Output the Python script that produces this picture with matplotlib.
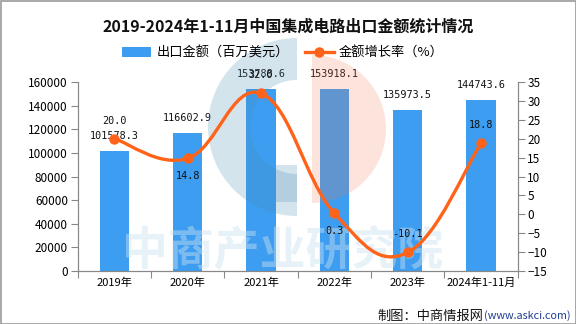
import matplotlib
matplotlib.use("Agg")
import matplotlib.pyplot as plt
from matplotlib.patches import Wedge, Rectangle, Patch, PathPatch
from matplotlib.lines import Line2D
from matplotlib.path import Path
from matplotlib.transforms import Affine2D

plt.rcParams['font.family'] = ['Noto Sans CJK SC', 'DejaVu Sans']

years = ["2019年", "2020年", "2021年", "2022年", "2023年", "2024年1-11月"]
export_value = [101578.3, 116602.9, 153788.6, 153918.1, 135973.5, 144743.6]
growth = [20.0, 14.8, 32.0, 0.3, -10.1, 18.8]
growth_pos = ["top", "bottom", "top", "bottom", "top", "top"]

bar_color = "#3d9df0"
line_color = "#ff6319"
axis_color = "#888888"

fig = plt.figure(figsize=(5.76, 3.24), dpi=100)
ax = fig.add_axes([77.7 / 576, 1 - 271 / 324, 440 / 576, 189 / 324])
ax2 = ax.twinx()

# pixel coords measured from top-left corner of the figure
px = Affine2D().scale(1 / 576, -1 / 324).translate(0, 1) + fig.transFigure

x = list(range(len(years)))
ax.bar(x, export_value, width=0.4, color=bar_color, zorder=2)
ax.set_xlim(-0.5, 5.5)
ax.set_ylim(0, 160000)
ax.set_yticks(range(0, 160001, 20000))
ax2.set_ylim(-15, 35)
ax2.set_yticks(range(-15, 36, 5))

for xi, v in zip(x, export_value):
    ax.annotate(f"{v:.1f}", (xi, v), xytext=(0, 11), textcoords="offset points",
                ha="center", va="center", fontsize=7.3, family="DejaVu Sans Mono",
                color="#111111", zorder=6)

# axes styling
ax.set_xticks([i - 0.5 for i in range(len(years) + 1)])
ax.set_xticklabels([])
ax.set_xticks(x, minor=True)
ax.set_xticklabels(years, minor=True, fontsize=8)
ax.tick_params(axis="x", which="minor", length=0, pad=5)
ax.tick_params(axis="x", which="major", length=5, color=axis_color)
ax.tick_params(axis="y", length=5, color=axis_color, labelsize=8.5, pad=2)
ax2.tick_params(axis="y", length=5, color=axis_color, labelsize=8.5, pad=2)
for a in (ax, ax2):
    a.spines["top"].set_visible(False)
    for s in ("left", "right", "bottom"):
        a.spines[s].set_color(axis_color)
ax.patch.set_visible(False)
ax2.patch.set_visible(False)

# watermark logo and text
wm_blue = (70 / 255, 140 / 255, 180 / 255)
wm_kw = dict(transform=px, clip_on=False, zorder=1.5, linewidth=0)
ax2.add_patch(Wedge((297, 127), 89, 90, 270, width=42, facecolor=wm_blue, alpha=0.23, **wm_kw))
ax2.add_patch(Rectangle((276, 165), 21, 37, facecolor=wm_blue, alpha=0.23, **wm_kw))
ax2.add_patch(Wedge((312, 129), 74, -90, 90, facecolor=(240 / 255, 120 / 255, 80 / 255), alpha=0.2, **wm_kw))
ax2.text(283, 252, "中商产业研究院", transform=px, ha="center", va="center", fontsize=33,
         fontweight="bold", color=(200 / 255, 225 / 255, 240 / 255), alpha=0.45,
         zorder=1.6, clip_on=False)

# smooth growth line (catmull-rom -> bezier)
pts = list(zip(x, growth))
verts = [pts[0]]
codes = [Path.MOVETO]
k = 0.2
for i in range(len(pts) - 1):
    p0 = pts[i - 1] if i > 0 else pts[i]
    p1 = pts[i]
    p2 = pts[i + 1]
    p3 = pts[i + 2] if i + 2 < len(pts) else pts[i + 1]
    c1 = (p1[0] + (p2[0] - p0[0]) * k, p1[1] + (p2[1] - p0[1]) * k)
    c2 = (p2[0] - (p3[0] - p1[0]) * k, p2[1] - (p3[1] - p1[1]) * k)
    verts += [c1, c2, p2]
    codes += [Path.CURVE4] * 3
ax2.add_patch(PathPatch(Path(verts, codes), facecolor="none", edgecolor=line_color,
                        linewidth=2.4, zorder=3, capstyle="round"))
ax2.plot(x, growth, linestyle="none", marker="o", markersize=6.5, color=line_color, zorder=4)

for xi, g, pos in zip(x, growth, growth_pos):
    dy = 13 if pos == "top" else -13
    ax2.annotate(f"{g:.1f}", (xi, g), xytext=(0, dy), textcoords="offset points",
                 ha="center", va="center", fontsize=7.3, family="DejaVu Sans Mono",
                 color="#111111", zorder=6)

# title, legend, footer
fig.text(288 / 576, 1 - 27 / 324, "2019-2024年1-11月中国集成电路出口金额统计情况",
         ha="center", va="center", fontsize=11.5, fontweight="bold", color="#111111")
handles = [Patch(facecolor=bar_color, edgecolor="none"),
           Line2D([0], [0], color=line_color, lw=2.4, marker="o", markersize=6.5)]
fig.legend(handles, ["出口金额（百万美元）", "金额增长率（%）"], loc="center",
           bbox_to_anchor=(283 / 576, 1 - 53 / 324), ncol=2, frameon=False, fontsize=9.5,
           handlelength=2.2, handleheight=0.7, columnspacing=1.2, handletextpad=0.4)

fig.text(483 / 576, 1 - 316 / 324, "制图：中商情报网", ha="right", va="center",
         fontsize=9.5, color="#111111")
fig.text(484 / 576, 1 - 316 / 324, "(www.askci.com)", ha="left", va="center",
         fontsize=7.8, color="#1f3f8f")

# grey frame round the whole picture
fig.patches.append(Rectangle((0.5, 0.5), 575, 323,
                             transform=Affine2D().scale(1 / 576, 1 / 324) + fig.transFigure,
                             fill=False, edgecolor="#999999", linewidth=1.2))

fig.savefig("out.png", dpi=100)
